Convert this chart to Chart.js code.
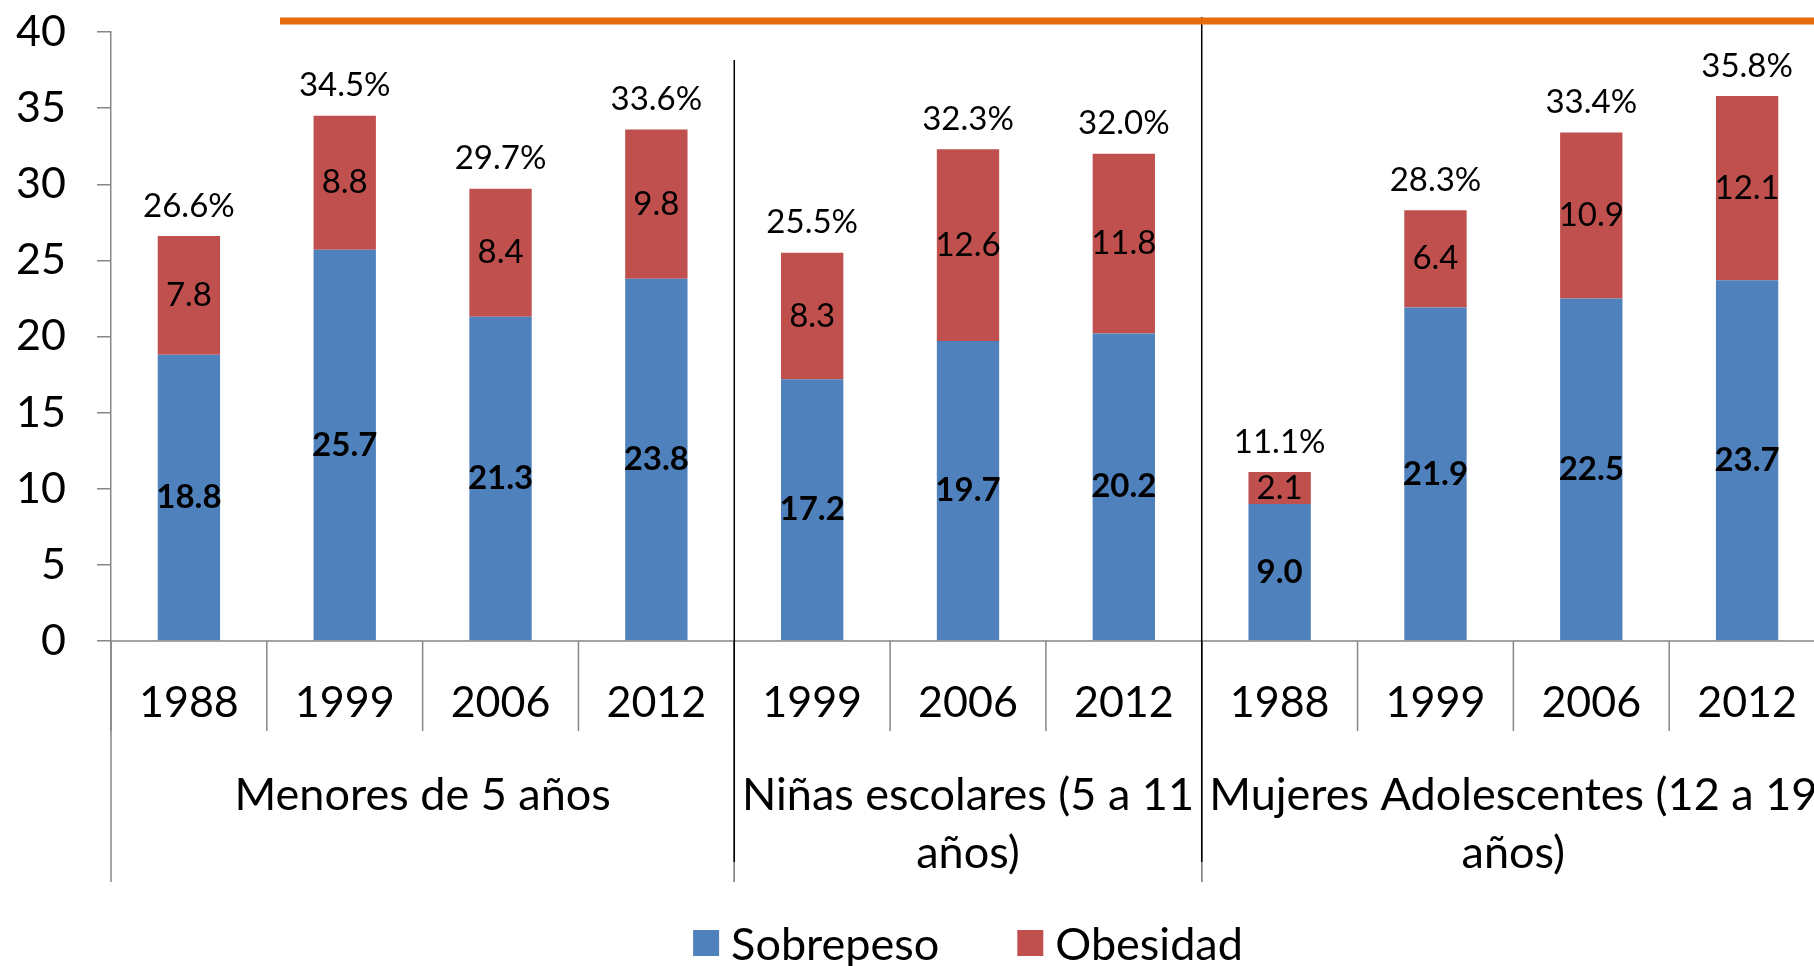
<!DOCTYPE html>
<html>
<head>
    <title>Sobrepeso y obesidad</title>
    <script src="https://cdn.jsdelivr.net/npm/chart.js"></script>
    <style>
        html, body {
            margin: 0;
            padding: 0;
            background: #ffffff;
            overflow: hidden;
        }
        .chart-box {
            position: relative;
            width: 1830px;
            height: 966px;
        }
    </style>
</head>
<body>
    <div class="chart-box">
        <canvas id="obesityChart"></canvas>
    </div>

    <script>
        // data
        const years = ['1988', '1999', '2006', '2012', '1999', '2006', '2012', '1988', '1999', '2006', '2012'];
        const groups = [
            { lines: ['Menores de 5 años'], from: 0, to: 4 },
            { lines: ['Niñas escolares (5 a 11', 'años)'], from: 4, to: 7 },
            { lines: ['Mujeres Adolescentes (12 a 19', 'años)'], from: 7, to: 11 }
        ];
        const sobrepeso = [18.8, 25.7, 21.3, 23.8, 17.2, 19.7, 20.2, 9.0, 21.9, 22.5, 23.7];
        const obesidad = [7.8, 8.8, 8.4, 9.8, 8.3, 12.6, 11.8, 2.1, 6.4, 10.9, 12.1];
        const totals = [26.6, 34.5, 29.7, 33.6, 25.5, 32.3, 32.0, 11.1, 28.3, 33.4, 35.8];
        const yTicks = [0, 5, 10, 15, 20, 25, 30, 35, 40];

        const FONT = 'Lato, "Open Sans", sans-serif';
        const AXIS_GRAY = '#868686';

        // everything below the plot (years, groups, dividers, legend) plus labels
        const decorations = {
            id: 'decorations',
            afterDatasetsDraw(chart) {
                const ctx = chart.ctx;
                const area = chart.chartArea;
                const x = chart.scales.x;
                const step = x.getPixelForValue(1) - x.getPixelForValue(0);
                const edge = i => x.getPixelForValue(0) - step / 2 + i * step;

                ctx.save();

                // x axis line
                ctx.strokeStyle = AXIS_GRAY;
                ctx.lineWidth = 1.5;
                ctx.beginPath();
                ctx.moveTo(area.left, area.bottom);
                ctx.lineTo(chart.width, area.bottom);
                ctx.stroke();

                // short dividers between years
                for (let i = 0; i <= years.length; i++) {
                    ctx.beginPath();
                    ctx.moveTo(edge(i), area.bottom);
                    ctx.lineTo(edge(i), area.bottom + 90);
                    ctx.stroke();
                }
                // long dividers between groups
                groups.forEach(g => {
                    [g.from, g.to].forEach(b => {
                        ctx.beginPath();
                        ctx.moveTo(edge(b), area.bottom);
                        ctx.lineTo(edge(b), area.bottom + 241);
                        ctx.stroke();
                    });
                });

                // year labels
                ctx.fillStyle = '#000';
                ctx.font = '43px ' + FONT;
                ctx.textAlign = 'center';
                ctx.textBaseline = 'middle';
                years.forEach((yr, i) => {
                    ctx.fillText(yr, x.getPixelForValue(i), area.bottom + 62);
                });

                // group labels
                ctx.font = '45px ' + FONT;
                groups.forEach(g => {
                    const cx = (edge(g.from) + edge(g.to)) / 2;
                    g.lines.forEach((t, li) => {
                        ctx.fillText(t, cx, area.bottom + 154 + li * 58);
                    });
                });

                // black separators drawn over the chart
                ctx.strokeStyle = '#000';
                ctx.lineWidth = 1.5;
                ctx.beginPath();
                ctx.moveTo(edge(4), 60);
                ctx.lineTo(edge(4), area.bottom + 221);
                ctx.moveTo(edge(7), 17);
                ctx.lineTo(edge(7), area.bottom + 221);
                ctx.stroke();

                // orange line at the top
                ctx.strokeStyle = '#E46C0A';
                ctx.lineWidth = 7;
                ctx.beginPath();
                ctx.moveTo(280, 21);
                ctx.lineTo(chart.width, 21);
                ctx.stroke();

                // value labels
                const blueMeta = chart.getDatasetMeta(0);
                const redMeta = chart.getDatasetMeta(1);
                ctx.fillStyle = '#000';
                ctx.textBaseline = 'middle';
                blueMeta.data.forEach((bar, i) => {
                    ctx.font = 'bold 33px ' + FONT;
                    ctx.fillText(sobrepeso[i].toFixed(1), bar.x, (bar.y + bar.base) / 2);
                });
                redMeta.data.forEach((bar, i) => {
                    ctx.font = '33px ' + FONT;
                    ctx.fillText(obesidad[i].toFixed(1), bar.x, (bar.y + bar.base) / 2);
                    ctx.fillText(totals[i].toFixed(1) + '%', bar.x, bar.y - 30);
                });

                // legend
                ctx.font = '45px ' + FONT;
                ctx.textAlign = 'left';
                const items = chart.data.datasets.map(ds => ({
                    label: ds.label,
                    color: ds.backgroundColor,
                    w: ctx.measureText(ds.label).width
                }));
                const box = 26, gapIn = 12, gapOut = 78;
                let total = 0;
                items.forEach((it, i) => {
                    total += box + gapIn + it.w + (i < items.length - 1 ? gapOut : 0);
                });
                let lx = (area.left + area.right) / 2 - total / 2;
                const ly = 943;
                items.forEach(it => {
                    ctx.fillStyle = it.color;
                    ctx.fillRect(lx, ly - box / 2, box, box);
                    ctx.fillStyle = '#000';
                    ctx.fillText(it.label, lx + box + gapIn, ly + 2);
                    lx += box + gapIn + it.w + gapOut;
                });

                ctx.restore();
            }
        };

        const ctx = document.getElementById('obesityChart').getContext('2d');
        new Chart(ctx, {
            type: 'bar',
            data: {
                labels: years.map((yr, i) => i),
                datasets: [{
                    label: 'Sobrepeso',
                    data: sobrepeso,
                    backgroundColor: '#4F81BD',
                    barPercentage: 0.4,
                    categoryPercentage: 1.0
                }, {
                    label: 'Obesidad',
                    data: obesidad,
                    backgroundColor: '#C0504D',
                    barPercentage: 0.4,
                    categoryPercentage: 1.0
                }]
            },
            options: {
                responsive: true,
                maintainAspectRatio: false,
                animation: false,
                layout: {
                    padding: { top: 32, bottom: 325, left: 0, right: 5 }
                },
                plugins: {
                    legend: { display: false },
                    tooltip: { enabled: false }
                },
                scales: {
                    x: {
                        stacked: true,
                        display: false
                    },
                    y: {
                        stacked: true,
                        min: 0,
                        max: 40,
                        afterFit: scale => {
                            scale.width = 111;
                            scale.paddingTop = 0;
                            scale.paddingBottom = 0;
                        },
                        afterBuildTicks: scale => {
                            scale.ticks = yTicks.map(v => ({ value: v }));
                        },
                        border: { color: AXIS_GRAY, width: 1.5 },
                        grid: {
                            drawOnChartArea: false,
                            color: AXIS_GRAY,
                            lineWidth: 1.5,
                            tickLength: 14
                        },
                        ticks: {
                            padding: 31,
                            color: '#000',
                            font: { family: FONT, size: 43 }
                        }
                    }
                }
            },
            plugins: [decorations]
        });
    </script>
</body>
</html>
